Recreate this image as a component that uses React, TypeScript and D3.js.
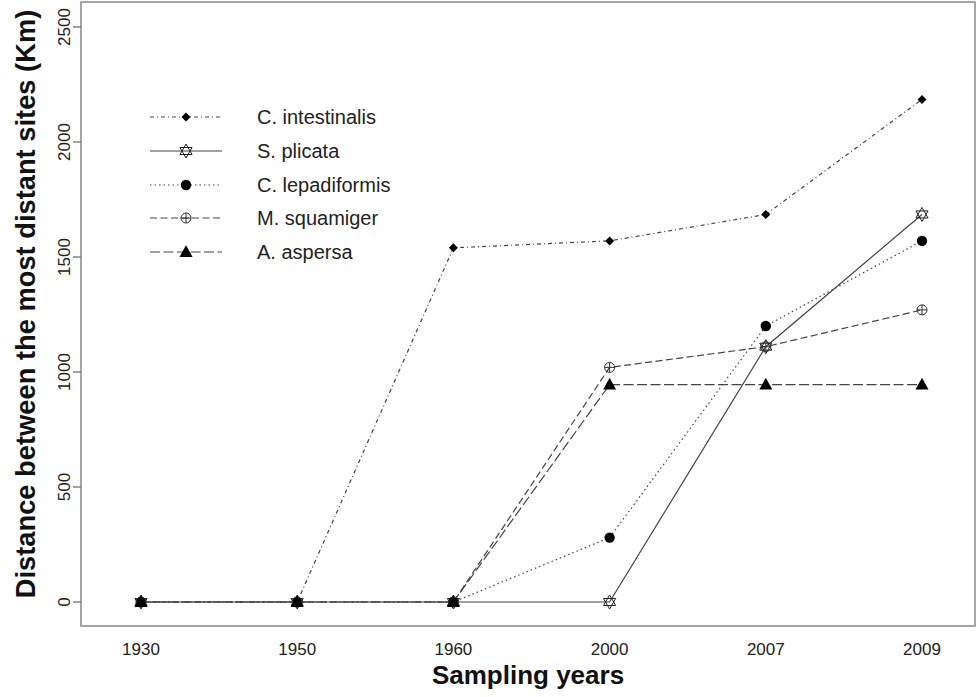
import React from "react";
import * as d3 from "d3";

const years = ["1930", "1950", "1960", "2000", "2007", "2009"];
const yTicks = [0, 500, 1000, 1500, 2000, 2500];
const seriesNames = ["C. intestinalis", "S. plicata", "C. lepadiformis", "M. squamiger", "A. aspersa"];
const cIntestinalis = [0, 0, 1540, 1570, 1685, 2185];
const sPlicata = [0, 0, 0, 0, 1110, 1685];
const cLepadiformis = [0, 0, 0, 280, 1200, 1570];
const mSquamiger = [0, 0, 0, 1020, 1110, 1270];
const aAspersa = [0, 0, 0, 945, 945, 945];

const seriesValues = [cIntestinalis, sPlicata, cLepadiformis, mSquamiger, aAspersa];
const dashes = ["4,3,1,3", "none", "1.5,3", "7,3.5", "10,3.5"];
const markers = ["diamond", "star", "dot", "circplus", "triangle"];

const FONT = "'Liberation Sans', Arial, Helvetica, sans-serif";

function Marker({ kind, x, y }: { kind: string; x: number; y: number }) {
  if (kind === "diamond") {
    const s = 4.5;
    return <path d={`M${x},${y - s}L${x + s},${y}L${x},${y + s}L${x - s},${y}Z`} fill="#000" />;
  }
  if (kind === "star") {
    const r = 7;
    const up = d3.range(3).map((i) => {
      const a = -Math.PI / 2 + (i * 2 * Math.PI) / 3;
      return [x + r * Math.cos(a), y + r * Math.sin(a)];
    });
    const dn = d3.range(3).map((i) => {
      const a = Math.PI / 2 + (i * 2 * Math.PI) / 3;
      return [x + r * Math.cos(a), y + r * Math.sin(a)];
    });
    const p = (pts: number[][]) => "M" + pts.map((q) => q.join(",")).join("L") + "Z";
    return (
      <g fill="none" stroke="#222" strokeWidth={1}>
        <path d={p(up)} />
        <path d={p(dn)} />
      </g>
    );
  }
  if (kind === "dot") {
    return <circle cx={x} cy={y} r={5.2} fill="#000" />;
  }
  if (kind === "circplus") {
    const r = 5;
    return (
      <g fill="none" stroke="#333" strokeWidth={1}>
        <circle cx={x} cy={y} r={r} />
        <path d={`M${x - r},${y}H${x + r}M${x},${y - r}V${y + r}`} />
      </g>
    );
  }
  const s = 6.5;
  return <path d={`M${x},${y - s * 1.05}L${x + s},${y + s * 0.75}L${x - s},${y + s * 0.75}Z`} fill="#000" />;
}

export default function App() {
  const W = 976;
  const H = 697;
  const box = { l: 81, t: 2, r: 975, b: 626 };
  const x = d3.scalePoint<string>().domain(years).range([141, 922]).padding(0);
  const y = d3.scaleLinear().domain([0, 2500]).range([602, 27]);
  const line = d3
    .line<number>()
    .x((_, i) => x(years[i]) as number)
    .y((v) => y(v));

  const legendY = [117, 151, 185, 218, 252];

  return (
    <svg width={W} height={H} style={{ position: "absolute", left: 0, top: 0, background: "#fff" }}>
      <rect x={0} y={0} width={W} height={H} fill="#fff" />
      {/* box */}
      <rect
        x={box.l}
        y={box.t}
        width={box.r - box.l}
        height={box.b - box.t}
        fill="none"
        stroke="#888"
        strokeWidth={1.5}
      />
      {/* y axis ticks */}
      {yTicks.map((t) => (
        <g key={t}>
          <line x1={73} x2={box.l} y1={y(t)} y2={y(t)} stroke="#666" strokeWidth={1.2} />
          <text
            transform={`translate(70,${y(t)}) rotate(-90)`}
            textAnchor="middle"
            fontFamily={FONT}
            fontSize={17}
            fill="#222"
          >
            {t}
          </text>
        </g>
      ))}
      {/* x tick labels */}
      {years.map((yr) => (
        <text
          key={yr}
          x={x(yr)}
          y={655}
          textAnchor="middle"
          fontFamily={FONT}
          fontSize={17}
          fill="#222"
        >
          {yr}
        </text>
      ))}
      {/* axis titles */}
      <text
        x={(box.l + box.r) / 2}
        y={684}
        textAnchor="middle"
        fontFamily={FONT}
        fontSize={26}
        fontWeight="bold"
        fill="#111"
      >
        Sampling years
      </text>
      <text
        transform={`translate(35,304) rotate(-90)`}
        textAnchor="middle"
        fontFamily={FONT}
        fontSize={27.3}
        fontWeight="bold"
        fill="#111"
      >
        Distance between the most distant sites (Km)
      </text>
      {/* lines */}
      {seriesValues.map((vals, si) => (
        <path
          key={"l" + si}
          d={line(vals) as string}
          fill="none"
          stroke="#444"
          strokeWidth={1.2}
          strokeDasharray={dashes[si]}
        />
      ))}
      {/* markers */}
      {seriesValues.map((vals, si) => (
        <g key={"m" + si}>
          {vals.map((v, i) => (
            <Marker key={i} kind={markers[si]} x={x(years[i]) as number} y={y(v)} />
          ))}
        </g>
      ))}
      {/* legend */}
      {seriesNames.map((name, si) => (
        <g key={"lg" + si}>
          <line
            x1={150}
            x2={222}
            y1={legendY[si]}
            y2={legendY[si]}
            stroke="#444"
            strokeWidth={1.2}
            strokeDasharray={dashes[si]}
          />
          <Marker kind={markers[si]} x={186} y={legendY[si]} />
          <text
            x={257}
            y={legendY[si] + 7}
            fontFamily={FONT}
            fontSize={20}
            fill="#222"
          >
            {name}
          </text>
        </g>
      ))}
    </svg>
  );
}
